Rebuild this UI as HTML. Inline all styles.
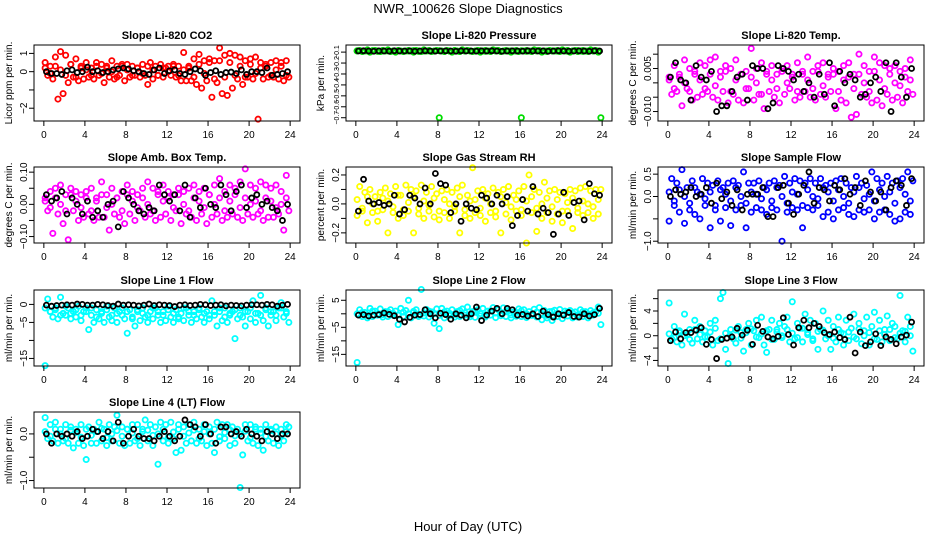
<!DOCTYPE html>
<html><head><meta charset="utf-8"><style>
html,body{margin:0;padding:0;background:#fff;}
svg{display:block;font-family:"Liberation Sans",Arial,sans-serif;}
</style></head><body>
<svg id="chart" width="936" height="540" viewBox="0 0 936 540">
<text x="468" y="13" text-anchor="middle" font-size="13">NWR_100626  Slope Diagnostics</text>
<text x="468" y="531" text-anchor="middle" font-size="13">Hour of Day (UTC)</text>
</svg>
<script>
const xTicks=[0,4,8,12,16,20,24];
const co2Vals=[0.5,-0.2,0.3,-0.4,0.8,-1.5,1.1,-1.2,0.9,-0.6,0.4,-0.3,0.7,-0.5,0.3,-0.4,0.5,-0.3,0.2,-0.4,0.5,-0.2,0.4,-0.6,0.3,-0.3,0.6,-0.4,0.3,-0.2,0.4,-0.5,0.4,-0.3,0.3,-0.2,0.2,-0.3,0.4,-0.2,-0.7,0.5,-0.4,0.3,-0.2,0.4,-0.3,0.2,0.3,-0.2,0.4,-0.3,0.3,-0.5,1.05,-0.5,0.3,-0.5,0.7,-0.7,0.95,-0.9,0.6,-0.5,0.7,-1.4,0.6,-0.6,1.3,-1.2,0.9,-1.3,1.0,-0.9,0.9,-0.4,0.8,-0.7,0.6,-0.3,0.7,-0.4,0.8,-2.6,0.5,-0.4,0.4,-0.3,0.5,-0.3,0.6,-0.4,0.5,-0.5,0.6,-0.3];
const co2Band=[0.2,-0.1,0.3,0.1,-0.2,0.4,-0.3,0.2,0.1,-0.2,0.3,-0.1,0.2,0.0,-0.3,0.3,0.1,-0.2,0.2,-0.1,0.3,0.1,-0.2,0.2,0.0,0.3,-0.2,0.1,0.2,-0.3,0.4,-0.1,0.5,-0.4,0.6,-0.3,0.5,-0.2,0.3,-0.3,0.4,-0.1,0.2,0.3,-0.2,0.1,0.3,-0.2];
const co2Black=[0,-0.1,-0.1,-0.15,0.05,0.1,-0.05,0.0,0.25,0.0,0.05,-0.05,0.0,0.1,0.15,0.2,0.15,0.05,0.0,-0.1,-0.15,0.1,0.2,-0.1,0.05,0.1,-0.1,-0.15,0.0,0.15,0.05,-0.2,-0.05,0.05,-0.15,-0.05,-0.02,-0.1,0.1,-0.15,0.0,0.0,-0.05,0.2,-0.2,-0.15,-0.1,0.0];
const presVals=[-0.09,-0.085,-0.095,-0.09,-0.08,-0.1,-0.09,-0.085,-0.09,-0.095,-0.085,-0.09,-0.08,-0.095,-0.09,-0.1,-0.085,-0.09,-0.095,-0.09,-0.085,-0.09,-0.1,-0.085,-0.09,-0.095,-0.08,-0.09,-0.085,-0.095,-0.09,-0.085,-0.7,-0.09,-0.095,-0.085,-0.09,-0.1,-0.085,-0.09,-0.095,-0.08,-0.09,-0.085,-0.09,-0.095,-0.09,-0.085,-0.1,-0.09,-0.085,-0.09,-0.095,-0.08,-0.09,-0.085,-0.095,-0.09,-0.085,-0.09,-0.1,-0.09,-0.085,-0.095,-0.7,-0.09,-0.085,-0.09,-0.095,-0.08,-0.09,-0.085,-0.1,-0.09,-0.095,-0.085,-0.09,-0.09,-0.085,-0.095,-0.08,-0.09,-0.085,-0.1,-0.09,-0.085,-0.095,-0.09,-0.085,-0.09,-0.095,-0.08,-0.09,-0.085,-0.1,-0.7];
const presBand=[-0.088,-0.092,-0.09,-0.087,-0.093,-0.09,-0.089,-0.091,-0.088,-0.092,-0.09,-0.087,-0.093,-0.09,-0.089,-0.091,-0.088,-0.092,-0.09,-0.087,-0.093,-0.09,-0.089,-0.091,-0.088,-0.092,-0.09,-0.087,-0.093,-0.09,-0.089,-0.091,-0.088,-0.092,-0.09,-0.087,-0.093,-0.09,-0.089,-0.091,-0.088,-0.092,-0.09,-0.087,-0.093,-0.09,-0.089,-0.091];
const presBlack=[-0.09,-0.088,-0.09,-0.092,-0.089,-0.09,-0.091,-0.088,-0.09,-0.09,-0.089,-0.092,-0.09,-0.088,-0.09,-0.091,-0.09,-0.089,-0.09,-0.092,-0.088,-0.09,-0.09,-0.091,-0.089,-0.09,-0.088,-0.09,-0.092,-0.09,-0.089,-0.09,-0.091,-0.088,-0.09,-0.09,-0.089,-0.092,-0.09,-0.088,-0.09,-0.091,-0.09,-0.089,-0.09,-0.092,-0.088,-0.09];
const ltVals=[0.001,-0.004,0.006,-0.003,0.002,-0.008,0.008,-0.002,0.005,-0.006,0.003,-0.005,0.007,-0.004,0.006,-0.003,0.008,-0.005,0.009,-0.006,0.004,-0.003,0.006,-0.007,0.005,-0.004,0.008,-0.006,0.003,-0.007,0.004,-0.002,0.012,-0.006,0.005,-0.004,0.007,-0.009,0.004,-0.003,0.006,-0.005,0.003,-0.007,0.005,-0.004,0.006,-0.002,0.003,-0.006,0.007,-0.005,0.004,-0.003,0.009,-0.005,0.004,-0.006,0.006,-0.004,0.007,-0.005,0.003,-0.003,0.005,-0.009,0.004,-0.006,0.006,-0.007,0.007,-0.012,0.003,-0.011,0.010,-0.004,0.006,-0.005,0.004,-0.007,0.009,-0.006,0.007,-0.008,0.006,-0.004,0.005,-0.006,0.006,-0.005,0.004,-0.007,0.005,-0.003,0.008,-0.004];
const ltBand=[0.002,-0.002,0.003,0.0,-0.003,0.004,0.001,-0.002,0.003,-0.001,0.002,0.004,-0.003,0.001,0.003,-0.002,0.002,0.0,-0.004,0.003,0.001,-0.002,0.004,0.0,0.002,-0.003,0.003,0.001,-0.002,0.004,-0.001,0.002,0.003,-0.003,0.001,0.002,-0.002,0.003,0.0,-0.003,0.004,0.001,-0.002,0.003,0.0,-0.001,0.002,0.001];
const ltBlack=[0.002,0.007,0.001,0.000,-0.006,0.006,0.002,0.001,0.004,-0.010,-0.008,-0.008,-0.003,0.002,0.003,-0.006,0.006,0.005,0.005,-0.009,-0.007,0.006,0.005,0.004,0.001,0.003,-0.003,0.000,-0.005,0.003,-0.004,0.007,-0.008,0.004,0.000,0.003,0.001,-0.005,-0.004,0.000,0.002,-0.003,0.007,-0.010,0.007,0.002,-0.005,0.005];
const ambVals=[0.02,-0.02,0.04,-0.09,0.05,-0.03,0.06,-0.06,0.03,-0.11,0.05,-0.02,0.04,-0.05,0.03,-0.04,0.04,-0.03,0.05,-0.05,0.02,-0.04,0.07,-0.04,0.03,-0.08,0.05,-0.03,0.02,-0.04,0.04,-0.06,0.06,-0.03,0.04,-0.05,0.03,-0.02,0.05,-0.04,0.07,-0.03,0.05,-0.05,0.04,-0.04,0.06,-0.03,0.04,-0.05,0.03,-0.02,0.05,-0.06,0.04,-0.03,0.05,-0.04,0.06,-0.05,0.04,-0.03,0.05,-0.06,0.03,-0.04,0.06,-0.03,0.08,-0.05,0.04,-0.04,0.06,-0.03,0.05,-0.04,0.07,-0.05,0.11,-0.03,0.06,-0.04,0.05,-0.03,0.07,-0.05,0.06,-0.04,0.05,-0.04,0.06,-0.03,0.04,-0.08,0.09,-0.02];
const ambBand=[0.01,-0.01,0.02,0.0,-0.02,0.03,0.01,-0.01,0.02,-0.02,0.01,0.03,-0.01,0.0,0.02,-0.02,0.03,0.01,-0.01,0.02,0.0,-0.02,0.03,0.01,0.02,-0.01,0.03,0.0,-0.02,0.02,0.01,-0.01,0.03,0.0,0.02,-0.02,0.01,0.03,-0.01,0.02,0.0,0.01,-0.02,0.02,0.01,-0.01,0.0,0.02];
const ambBlack=[0.03,0.01,0.02,0.04,-0.03,0.02,0.0,-0.03,0.01,-0.04,-0.02,-0.04,0.0,0.01,-0.07,0.04,0.02,0.0,-0.02,-0.03,-0.01,-0.02,0.06,0.03,0.01,0.03,-0.02,0.06,-0.04,0.02,-0.01,0.05,0.0,-0.01,0.06,0.03,-0.02,0.04,0.06,-0.01,0.02,0.03,0.0,0.01,-0.01,-0.02,-0.05,0.0];
const rhVals=[-0.08,0.12,-0.05,0.08,-0.13,0.1,-0.06,0.05,-0.12,0.08,-0.04,0.11,-0.2,0.07,-0.06,0.12,-0.1,0.06,-0.08,0.13,-0.05,0.1,-0.2,0.09,-0.07,0.13,-0.1,0.08,-0.05,0.12,-0.09,0.07,-0.11,0.09,-0.06,0.1,-0.1,0.08,-0.05,0.11,-0.2,0.13,-0.08,0.06,-0.1,0.25,-0.06,0.09,-0.08,0.1,-0.12,0.07,-0.06,0.11,-0.09,0.08,-0.2,0.1,-0.07,0.12,-0.11,0.06,-0.05,0.09,-0.08,0.12,-0.27,0.2,-0.06,0.1,-0.19,0.08,-0.1,0.15,-0.06,0.09,-0.12,0.1,-0.07,0.08,-0.13,0.07,-0.05,0.1,-0.17,0.09,-0.06,0.11,-0.08,0.12,-0.06,0.09,-0.1,0.1,-0.07,0.1];
const rhBand=[0.03,-0.03,0.05,0.0,-0.05,0.04,0.02,-0.02,0.06,-0.04,0.01,0.05,-0.03,0.02,-0.01,0.04,-0.05,0.03,0.0,-0.02,0.05,-0.04,0.02,0.03,-0.03,0.04,0.0,-0.05,0.05,0.01,-0.02,0.03,-0.04,0.02,0.05,-0.03,0.0,0.04,-0.02,0.03,-0.05,0.01,0.04,-0.03,0.02,0.0,-0.02,0.03];
const rhBlack=[-0.05,0.17,0.02,0.0,0.01,-0.01,0.0,0.06,-0.07,-0.04,0.06,0.04,0.0,0.11,0.0,0.21,0.14,0.13,-0.06,0.0,-0.12,0.0,-0.03,-0.04,0.06,0.04,0.0,0.06,0.0,0.05,-0.15,-0.08,0.03,-0.05,0.12,-0.07,-0.03,-0.06,-0.21,-0.07,0.08,-0.08,0.01,0.02,-0.11,0.14,0.07,0.06];
const sfVals=[-0.55,0.4,-0.2,0.3,-0.35,0.6,-0.6,0.2,-0.3,0.35,-0.4,0.1,-0.5,0.4,-0.2,0.3,-0.7,0.25,-0.3,0.35,-0.55,0.2,-0.25,0.3,-0.65,0.35,-0.3,0.25,-0.2,0.55,-0.7,0.3,-0.35,0.3,-0.25,0.35,-0.3,0.2,-0.4,0.3,-0.25,0.35,-0.3,0.25,-1.0,0.45,-0.35,0.3,-0.25,0.4,-0.3,0.35,-0.7,0.3,-0.25,0.4,-0.3,0.3,-0.2,0.4,-0.45,0.25,-0.35,0.3,-0.5,0.35,-0.3,0.4,-0.25,0.3,-0.4,0.2,-0.45,0.45,-0.3,0.3,-0.35,0.25,-0.3,0.55,-0.5,0.4,-0.35,0.3,-0.3,0.45,-0.4,0.3,-0.55,0.35,-0.5,0.4,-0.35,0.55,-0.4,0.35];
const sfBand=[0.1,-0.1,0.15,0.0,-0.15,0.2,0.05,-0.05,0.1,-0.2,0.15,0.05,-0.1,0.2,0.0,-0.15,0.1,0.05,-0.05,0.15,-0.1,0.2,0.0,-0.15,0.1,0.05,-0.2,0.15,0.0,-0.05,0.2,0.1,-0.1,0.15,0.0,-0.15,0.1,0.2,-0.05,0.05,-0.1,0.15,0.0,0.1,-0.15,0.2,0.05,-0.1];
const sfBlack=[0.0,0.15,0.05,0.1,0.2,0.0,0.05,0.2,-0.15,0.3,-0.05,0.1,-0.2,0.15,-0.3,0.05,0.05,0.05,0.2,-0.45,-0.45,0.2,0.25,-0.15,-0.4,0.05,0.25,0.55,-0.15,0.2,0.15,-0.1,0.25,0.15,0.4,0.05,0.2,-0.2,0.35,0.1,-0.1,0.1,-0.3,0.2,0.35,0.25,-0.2,0.4];
const l1Vals=[-17,1.5,-2,-3.5,-1,-4,2,-2.5,-3,-1,-4,-2,-3.5,-0.5,-4.5,-2,-1,-7,-3,-5,-1.5,-4,-2.5,-5,-0.5,-3.5,-4.5,-1,-5,-2,-3,-4,-8,-1.5,-4,-6,-2,-4.5,-1,-3.5,-5,-2,-4,-1,-3,-5,-2,-4.5,-0.5,-3.5,-5,-1.5,-4,-2.5,-4.5,-1,-3,-5,-2,-4,-1,-3.5,-5,-2,-4,1,-3,-6,-2,-4.5,-1,-5,-3,-2,-9.5,-4,-1,-3.5,-6,-2,-4,1,-5,-2.5,2.5,-4.5,-1,-6,-3,-2,-4.5,-1,0.5,-3.5,-2,-5];
const l1Band=[-1,-2,-1.5,-3,-0.5,-2.5,-1.5,-3,-2,-1,-3.5,-2,-1.5,-3,-2.5,-1,-2,-3.5,-1.5,-2.5,-3,-1,-2,-3,-1.5,-2.5,-3.5,-1,-2,-3,-1.5,-2.5,-3,-2,-1,-3.5,-2.5,-1.5,-3,-2,-1,-2.5,-3,-1.5,-2,-3,-1,-2.5];
const l1Black=[-0.2,-0.5,-0.3,-0.2,-0.1,-0.2,0.1,0.0,-0.2,-0.2,0.0,-0.1,-0.3,-0.5,0.1,-0.2,-0.1,-0.2,-0.4,-0.2,0.1,-0.3,-0.1,-0.2,-0.3,-0.6,-0.2,-0.1,-0.3,-0.2,0.0,-0.1,-0.3,-0.2,-0.1,-0.4,-0.2,-0.3,-0.4,-0.2,-0.1,-0.1,-0.2,0.0,-0.1,-0.5,-0.2,0.0];
const l2Vals=[-18,1.5,-1,0.5,-1.5,2,-1,1,-0.5,1.8,-1.2,0.8,-1,1.5,-0.5,1,-4,2,-1,1.2,5,-1.5,0.5,1.5,-1,9,-0.8,1.6,-1.2,0.7,-3.5,1.8,-5.5,2,-1.5,1,-0.6,1.5,-1.2,0.8,-1,1.8,-0.5,2.5,-1.1,0.8,-1.3,1.5,-0.8,2,-1.2,1,-0.5,2.3,-1.4,1.5,-0.7,2.2,-1,1.2,-1.5,0.6,-0.9,1.8,-1,1.5,-1.4,0.8,-0.6,1.7,-1.2,2.3,-2.2,1.2,-1.5,0.8,-2.5,1.3,-1,1.6,-1.8,1,-0.8,1.2,-1.5,0.7,-1.2,1.5,-1,0.8,-1.5,1.2,-0.5,0.7,2.5,-4];
const l2Band=[0,0.5,-0.5,1,0,-0.3,0.8,0.2,-0.5,0.6,0,0.9,-0.4,0.3,1,0,-0.6,0.7,0.2,-0.2,1.2,0.4,-0.3,0.8,0.1,-0.5,1,0.3,0,0.7,-0.4,0.5,1.1,0,-0.3,0.6,0.2,-0.6,0.9,0.1,-0.2,0.7,0.3,-0.4,0.8,0,0.4,0.2];
const l2Black=[-0.5,-0.3,-0.8,-0.5,-0.3,0.3,-0.2,-0.7,-2,-3,-1.3,-0.5,-0.3,1.5,0.0,-1.5,0.2,-0.3,-2,0.0,-0.5,-1.5,0.0,2.5,-2.5,-0.5,1.0,2.0,0.0,2.0,1.5,-0.5,-0.2,-0.8,0.0,-1.0,1.0,-0.3,-1.2,0.0,-0.5,0.5,-1.0,-1.2,0.0,-0.8,-0.3,2.0];
const l3Vals=[5.3,-0.5,1.5,-1,0.5,-1.5,3.5,0.2,1,-1.2,2.5,-0.5,1.5,-1,0.8,-0.2,2,-1.5,2.5,-0.8,6,7,-2.2,-4.5,1,-0.5,-1.2,1.5,0.5,-2.5,1,2,-1.5,0.8,2.5,-0.3,3,-1.5,-2.7,1,2.5,-0.6,1,2,-0.3,1.5,3,-1,5.5,-0.5,2,1.2,-1,3.5,0.5,2.5,-0.8,2,-2.2,1,4,-0.5,2.5,-2.2,1.5,-1,3,0.5,-1.5,2.5,-0.8,1.2,3.5,-0.5,2,-1.3,0.8,3,-1.5,1.5,3.8,-0.6,2.5,-1,1,3.2,-0.8,2,1.5,-0.5,6.5,0.8,-1,3,1.5,-2.5];
const l3Band=[0.3,-0.3,0.8,0,-0.6,1,0.2,-0.2,0.6,1.2,-0.5,0.4,0,0.9,-0.4,0.5,1.1,-0.2,0.3,0.8,-0.6,0.6,0,1,0.4,-0.3,1.2,0.2,-0.5,0.7,0.9,0,-0.4,1,0.3,0.6,-0.2,1.1,0,0.5,-0.5,0.8,0.2,1,-0.3,0.4,0.7,0];
const l3Black=[-0.8,0.6,-0.5,0.5,0.5,0.9,1.3,-1.4,-0.6,-3.7,-0.6,-0.4,-0.2,1.2,0.1,0.9,-1.4,1.7,0.7,-0.2,-0.5,-0.1,2.9,0.2,-1.5,1.3,2.5,1.3,2.0,1.5,0.5,0.2,0.6,-0.3,-0.6,3.0,-2.8,0.6,-1.6,-1.0,0.3,-1.6,-0.2,-0.6,-1.3,-0.2,0.1,2.2];
const l4Vals=[0.35,-0.1,0.2,-0.15,0.25,-0.2,0.1,-0.15,0.2,-0.2,0.15,-0.3,0.1,-0.2,0.2,-0.25,-0.55,0.15,-0.2,0.1,-0.2,0.25,-0.15,0.1,-0.25,0.2,-0.15,0.15,0.4,-0.2,0.15,-0.25,0.1,-0.2,0.2,-0.15,0.2,-0.25,0.1,0.3,-0.15,0.2,-0.25,0.15,-0.65,0.25,-0.15,0.2,-0.2,0.25,-0.1,-0.4,0.2,-0.35,0.15,-0.2,0.2,-0.15,0.25,-0.2,0.1,-0.15,0.2,-0.25,0.15,-0.2,-0.4,0.25,-0.15,0.2,-0.1,0.2,-0.25,0.15,-0.2,0.1,-1.15,-0.45,0.2,-0.15,0.2,-0.2,0.15,-0.25,0.1,-0.35,0.2,-0.15,0.1,-0.2,0.15,-0.25,0.1,-0.15,0.2,0.15];
const l4Band=[0.05,-0.05,0.1,0.0,-0.1,0.08,0.03,-0.07,0.1,-0.03,0.05,0.12,-0.08,0.0,0.07,-0.05,0.1,0.02,-0.1,0.05,0.08,-0.03,0.0,0.1,-0.07,0.04,0.1,-0.05,0.02,0.08,-0.1,0.05,0.0,0.1,-0.06,0.03,0.09,-0.04,0.0,0.06,-0.08,0.1,0.02,-0.05,0.07,0.0,-0.03,0.05];
const l4Black=[0.0,-0.2,0.0,-0.05,0.0,-0.05,0.05,-0.1,-0.05,0.1,0.05,-0.1,0.05,-0.15,0.25,-0.2,-0.05,0.1,-0.05,-0.1,-0.1,-0.15,-0.05,0.05,-0.05,-0.15,-0.05,0.3,0.2,0.15,-0.05,0.2,0.0,-0.2,0.15,0.15,0.0,0.05,-0.05,0.1,0.0,-0.05,-0.15,0.05,0.0,-0.1,0.0,0.0];

const panels=[
 {id:'co2',title:'Slope Li-820 CO2',ylab:'Licor ppm per min.',col:'#ff0000',vals:co2Vals,band:co2Band,blk:co2Black,ymin:-2.7,ymax:1.46,ticks:[1,0,-1,-2],labels:['1','0','','−2'],c:0,r:0,fs:10},
 {id:'pressure',title:'Slope Li-820 Pressure',ylab:'kPa per min.',col:'#00dd00',vals:presVals,band:presBand,blk:presBlack,ymin:-0.73,ymax:-0.035,ticks:[-0.1,-0.2,-0.3,-0.4,-0.5,-0.6,-0.7],labels:['−0.1','−0.2','−0.3','−0.4','−0.5','−0.6','−0.7'],c:1,r:0,fs:7},
 {id:'licor-temp',title:'Slope Li-820 Temp.',ylab:'degrees C per min.',col:'#ff00ff',vals:ltVals,band:ltBand,blk:ltBlack,ymin:-0.0133,ymax:0.0132,ticks:[0.01,0.005,0,-0.005,-0.01],labels:['','0.005','','','−0.010'],c:2,r:0,fs:10},
 {id:'amb-temp',title:'Slope Amb. Box Temp.',ylab:'degrees C per min.',col:'#ff00ff',vals:ambVals,band:ambBand,blk:ambBlack,ymin:-0.12,ymax:0.116,ticks:[0.1,0.05,0,-0.05,-0.1],labels:['0.10','','0.00','','−0.10'],c:0,r:1,fs:10},
 {id:'rh',title:'Slope Gas Stream RH',ylab:'percent per min.',col:'#ffff00',vals:rhVals,band:rhBand,blk:rhBlack,ymin:-0.27,ymax:0.255,ticks:[0.2,0.1,0,-0.1,-0.2],labels:['0.2','','0.0','','−0.2'],c:1,r:1,fs:10},
 {id:'sample-flow',title:'Slope Sample Flow',ylab:'ml/min per min.',col:'#0000ff',vals:sfVals,band:sfBand,blk:sfBlack,ymin:-1.04,ymax:0.66,ticks:[0.5,0,-0.5,-1],labels:['0.5','0.0','','−1.0'],c:2,r:1,fs:10},
 {id:'line1',title:'Slope Line 1 Flow',ylab:'ml/min per min.',col:'#00ffff',vals:l1Vals,band:l1Band,blk:l1Black,ymin:-17.1,ymax:4,ticks:[0,-5,-10,-15],labels:['0','−5','','−15'],c:0,r:2,fs:10},
 {id:'line2',title:'Slope Line 2 Flow',ylab:'ml/min per min.',col:'#00ffff',vals:l2Vals,band:l2Band,blk:l2Black,ymin:-19.3,ymax:8.8,ticks:[5,0,-5,-10,-15],labels:['5','','−5','','−15'],c:1,r:2,fs:10},
 {id:'line3',title:'Slope Line 3 Flow',ylab:'ml/min per min.',col:'#00ffff',vals:l3Vals,band:l3Band,blk:l3Black,ymin:-4.9,ymax:7.4,ticks:[6,4,2,0,-2,-4],labels:['','4','','0','','−4'],c:2,r:2,fs:10},
 {id:'line4',title:'Slope Line 4 (LT) Flow',ylab:'ml/min per min.',col:'#00ffff',vals:l4Vals,band:l4Band,blk:l4Black,ymin:-1.16,ymax:0.47,ticks:[0,-0.5,-1],labels:['0.0','','−1.0'],c:0,r:3,fs:10}
];
const NS='http://www.w3.org/2000/svg';
const svg=document.getElementById('chart');
const colLeft=[34,346,658], rowTop=[45,167,290,412], W=266, H=76;
function mk(tag,attrs,parent){const e=document.createElementNS(NS,tag);for(const k in attrs)e.setAttribute(k,attrs[k]);parent.appendChild(e);return e;}
panels.forEach(p=>{
 const L=colLeft[p.c], T=rowTop[p.r];
 const xs=h=>L+(h+0.96)/25.92*W;
 const ys=v=>T+(p.ymax-v)/(p.ymax-p.ymin)*H;
 const g=mk('g',{},svg);
 
 
 const t=mk('text',{x:L+W/2,y:T-6,'text-anchor':'middle','font-size':'11','font-weight':'bold'},g);
 t.textContent=p.title;
 
 
 const yl=mk('text',{transform:`translate(${L-22},${T+H/2}) rotate(-90)`,'text-anchor':'middle','font-size':'10'},g);
 yl.textContent=p.ylab;
 
 
 const pts=mk('g',{fill:'none',stroke:p.col,'stroke-width':'1.8'},g);
 
 
 p.vals.forEach((v,i)=>{
  const c=mk('circle',{cx:xs((i+0.5)*24/p.vals.length),cy:ys(v),r:2.6},pts);
  
  
 });
 p.band.forEach((v,i)=>{
  const c=mk('circle',{cx:xs((i+0.25)*24/p.band.length),cy:ys(v),r:2.6},pts);
  
  
 });
 const bp=mk('g',{fill:'none',stroke:'#000','stroke-width':'1.8'},g);
 
 
 p.blk.forEach((v,i)=>{
  const c=mk('circle',{cx:xs((i+0.5)*24/p.blk.length),cy:ys(v),r:2.5},bp);
  
  
 });
 const box=mk('rect',{x:L,y:T,width:W,height:H,fill:'none',stroke:'#000','stroke-width':'1'},g);
 
 
 const ax=mk('g',{stroke:'#000','stroke-width':'1'},g);
 
 
 mk('line',{x1:xs(0),x2:xs(24),y1:T+H,y2:T+H},ax);
 xTicks.forEach(h=>{
  mk('line',{x1:xs(h),x2:xs(h),y1:T+H,y2:T+H+5},ax);
  const tx=mk('text',{x:xs(h),y:T+H+17,'text-anchor':'middle','font-size':'10',stroke:'none',fill:'#000'},g);
  tx.textContent=h;
  
  
 });
 const ay=mk('g',{stroke:'#000','stroke-width':'1'},g);
 
 
 mk('line',{x1:L,x2:L,y1:ys(p.ticks[0]),y2:ys(p.ticks[p.ticks.length-1])},ay);
 p.ticks.forEach((tv,i)=>{
  mk('line',{x1:L-5,x2:L,y1:ys(tv),y2:ys(tv)},ay);
  if(p.labels[i]){
   const ty=mk('text',{transform:`translate(${L-7},${ys(tv)}) rotate(-90)`,'text-anchor':'middle','font-size':p.fs,fill:'#000'},g);
   ty.textContent=p.labels[i];
   
   
  }
 });
});
</script>
</body></html>
